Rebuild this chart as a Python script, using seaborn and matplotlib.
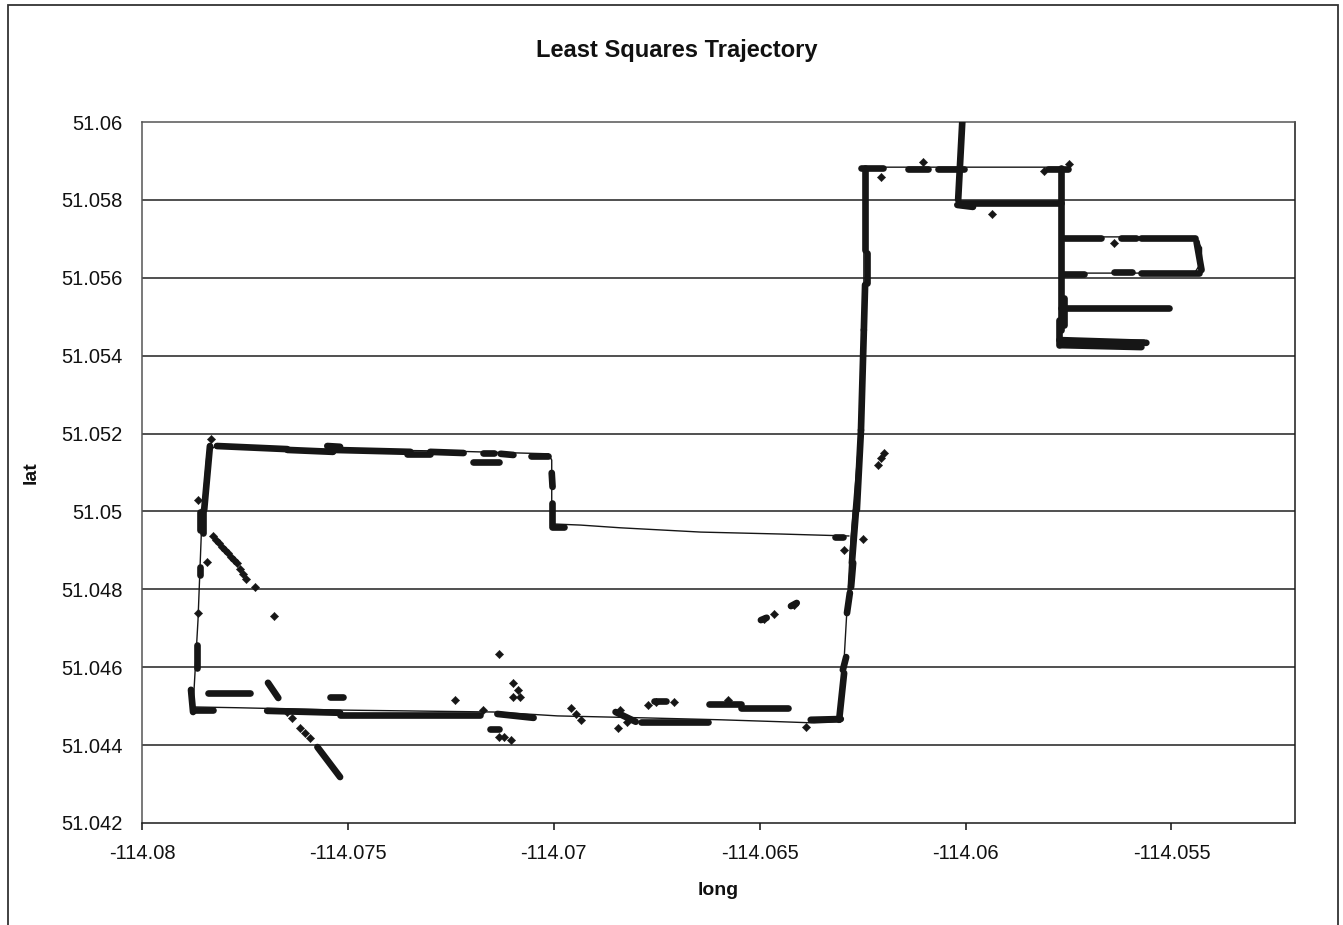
import numpy as np
import pandas as pd
import matplotlib
matplotlib.use("Agg")
import matplotlib.pyplot as plt
from matplotlib.patches import Rectangle
import seaborn as sns

# ---- trajectory (thin connecting line), lon / lat in degrees ----
route_lon = [-114.06283, -114.06448, -114.06643, -114.06838, -114.06935, -114.07005,
             -114.07005, -114.07013, -114.07251, -114.07616, -114.07822, -114.07842,
             -114.07854, -114.07864, -114.07876, -114.07769, -114.07519, -114.07146,
             -114.06991, -114.06782, -114.06594, -114.06448, -114.06368, -114.06303,
             -114.06295, -114.06278, -114.06261, -114.06247, -114.06247, -114.05768,
             -114.05768, -114.06016, -114.06005, -114.06016, -114.05768, -114.05768,
             -114.05444, -114.05427, -114.05427, -114.05444, -114.05768, -114.05768,
             -114.05507, -114.05768, -114.05768, -114.05566]
route_lat = [51.04937, 51.04942, 51.04947, 51.04958, 51.04965, 51.04968,
             51.05132, 51.05148, 51.05155, 51.05160, 51.05168, 51.05150,
             51.04996, 51.04721, 51.04498, 51.04496, 51.04490, 51.04485,
             51.04475, 51.04470, 51.04465, 51.04460, 51.04457, 51.04460,
             51.04619, 51.04935, 51.05158, 51.05466, 51.05884, 51.05884,
             51.05795, 51.05795, 51.06010, 51.05795, 51.05795, 51.05705,
             51.05705, 51.05677, 51.05641, 51.05612, 51.05612, 51.05522,
             51.05522, 51.05522, 51.05440, 51.05440]

# ---- dense runs of position fixes (start / end of each run) ----
run_lon0 = [-114.07818, -114.07647, -114.07550, -114.07536, -114.07356, -114.07300,
            -114.07195, -114.07171, -114.07129, -114.07056, -114.07005, -114.07005,
            -114.07005, -114.07835, -114.07852, -114.07859, -114.07859, -114.07866,
            -114.07881, -114.07876, -114.07840, -114.07694, -114.07696, -114.07543,
            -114.07574, -114.07519, -114.07154, -114.07137, -114.06850, -114.06789,
            -114.06757, -114.06624, -114.06546, -114.06376, -114.06307, -114.06298,
            -114.06288, -114.06278, -114.06276, -114.06264, -114.06254, -114.06244,
            -114.06239, -114.06244, -114.06317, -114.06497, -114.06424, -114.06254,
            -114.06140, -114.06067, -114.06008, -114.06020, -114.06016, -114.05799,
            -114.05768, -114.05760, -114.05622, -114.05573, -114.05439, -114.05760,
            -114.05639, -114.05573, -114.05768, -114.05760, -114.05772, -114.05768,
            -114.05772]
run_lat0 = [51.05168, 51.05158, 51.05168, 51.05158, 51.05148, 51.05153,
            51.05127, 51.05150, 51.05148, 51.05142, 51.05099, 51.05022,
            51.04960, 51.05168, 51.05004, 51.04999, 51.04858, 51.04657,
            51.04542, 51.04490, 51.04534, 51.04560, 51.04488, 51.04524,
            51.04395, 51.04478, 51.04442, 51.04480, 51.04485, 51.04460,
            51.04513, 51.04506, 51.04496, 51.04465, 51.04465, 51.04593,
            51.04739, 51.04806, 51.04868, 51.05004, 51.05209, 51.05882,
            51.05664, 51.05582, 51.04935, 51.04721, 51.04757, 51.05882,
            51.05879, 51.05879, 51.06000, 51.05787, 51.05792, 51.05879,
            51.05882, 51.05702, 51.05702, 51.05702, 51.05692, 51.05610,
            51.05615, 51.05612, 51.05522, 51.05548, 51.05440, 51.05427,
            51.05492]
run_lon1 = [-114.07647, -114.07536, -114.07519, -114.07348, -114.07300, -114.07219,
            -114.07134, -114.07146, -114.07098, -114.07015, -114.07003, -114.07005,
            -114.06976, -114.07849, -114.07852, -114.07859, -114.07859, -114.07866,
            -114.07876, -114.07827, -114.07737, -114.07669, -114.07519, -114.07511,
            -114.07519, -114.07178, -114.07134, -114.07049, -114.06801, -114.06626,
            -114.06728, -114.06546, -114.06431, -114.06303, -114.06295, -114.06290,
            -114.06281, -114.06273, -114.06266, -114.06254, -114.06247, -114.06244,
            -114.06239, -114.06247, -114.06298, -114.06483, -114.06410, -114.06200,
            -114.06091, -114.06003, -114.06018, -114.05982, -114.05768, -114.05751,
            -114.05768, -114.05670, -114.05585, -114.05444, -114.05427, -114.05712,
            -114.05597, -114.05434, -114.05505, -114.05760, -114.05561, -114.05573,
            -114.05772]
run_lat1 = [51.05160, 51.05153, 51.05166, 51.05153, 51.05148, 51.05150,
            51.05127, 51.05150, 51.05145, 51.05142, 51.05063, 51.04965,
            51.04960, 51.05004, 51.04945, 51.04952, 51.04837, 51.04598,
            51.04485, 51.04490, 51.04534, 51.04521, 51.04483, 51.04524,
            51.04318, 51.04478, 51.04442, 51.04470, 51.04460, 51.04460,
            51.04513, 51.04506, 51.04496, 51.04467, 51.04585, 51.04626,
            51.04791, 51.04868, 51.05004, 51.05209, 51.05466, 51.05671,
            51.05587, 51.05466, 51.04935, 51.04727, 51.04765, 51.05882,
            51.05879, 51.05879, 51.05800, 51.05782, 51.05792, 51.05879,
            51.05466, 51.05702, 51.05702, 51.05702, 51.05620, 51.05610,
            51.05615, 51.05612, 51.05522, 51.05479, 51.05433, 51.05422,
            51.05427]

# ---- scattered individual fixes ----
fix_lon = [-114.07832, -114.07864, -114.07842, -114.07864, -114.07679,
           -114.07827, -114.07820, -114.07813, -114.07805, -114.07798, -114.07791,
           -114.07784, -114.07776, -114.07769, -114.07762, -114.07754, -114.07747,
           -114.07725,
           -114.07647, -114.07635, -114.07616, -114.07604, -114.07591,
           -114.07239, -114.07171, -114.07134, -114.07098, -114.07086, -114.07081,
           -114.07098, -114.07134, -114.07122, -114.07105, -114.06959, -114.06947,
           -114.06935, -114.06845, -114.06838, -114.06821, -114.06772, -114.06752,
           -114.06709, -114.06577, -114.06388, -114.06295, -114.06249, -114.06213,
           -114.06205, -114.06198, -114.06490, -114.06466, -114.06417, -114.06205,
           -114.06103, -114.05935, -114.05809, -114.05748, -114.05639]
fix_lat = [51.05186, 51.05030, 51.04870, 51.04739, 51.04732,
           51.04937, 51.04927, 51.04919, 51.04909, 51.04901, 51.04893,
           51.04883, 51.04876, 51.04868, 51.04852, 51.04840, 51.04827,
           51.04806,
           51.04485, 51.04470, 51.04444, 51.04431, 51.04418,
           51.04516, 51.04490, 51.04634, 51.04560, 51.04542, 51.04524,
           51.04524, 51.04421, 51.04421, 51.04413, 51.04496, 51.04480,
           51.04465, 51.04444, 51.04490, 51.04460, 51.04503, 51.04511,
           51.04511, 51.04516, 51.04447, 51.04901, 51.04929, 51.05119,
           51.05137, 51.05150, 51.04724, 51.04737, 51.04760, 51.05859,
           51.05897, 51.05764, 51.05874, 51.05892, 51.05689]

x_ticks = [-114.08, -114.075, -114.07, -114.065, -114.06, -114.055]
x_tick_labels = ["-114.08", "-114.075", "-114.07", "-114.065", "-114.06", "-114.055"]
y_ticks = [51.042, 51.044, 51.046, 51.048, 51.05, 51.052, 51.054, 51.056, 51.058, 51.06]
y_tick_labels = ["51.042", "51.044", "51.046", "51.048", "51.05", "51.052",
                 "51.054", "51.056", "51.058", "51.06"]

# ---- build tidy frames ----
route = pd.DataFrame({"long": route_lon, "lat": route_lat})
runs = pd.DataFrame({
    "long": np.ravel(np.column_stack([run_lon0, run_lon1])),
    "lat": np.ravel(np.column_stack([run_lat0, run_lat1])),
    "run": np.repeat(np.arange(len(run_lon0)), 2),
})
fixes = pd.DataFrame({"long": fix_lon, "lat": fix_lat})

sns.set_style("white")
plt.rcParams["font.family"] = ["Liberation Sans", "DejaVu Sans"]

ink = "#161616"
fig = plt.figure(figsize=(13.43, 9.25), dpi=100)
ax = fig.add_axes([142 / 1343, 1 - 823 / 925, (1295 - 142) / 1343, (823 - 122) / 925])

ax.set_xlim(-114.08, -114.052)
ax.set_ylim(51.042, 51.06)

for y in y_ticks[1:-1]:
    ax.axhline(y, color="#202020", lw=1.1, zorder=0)

sns.lineplot(data=route, x="long", y="lat", sort=False, estimator=None,
             color=ink, lw=1.0, ax=ax, zorder=2)
sns.lineplot(data=runs, x="long", y="lat", units="run", estimator=None, sort=False,
             color=ink, lw=4.8, solid_capstyle="round", ax=ax, zorder=3)
sns.scatterplot(data=fixes, x="long", y="lat", marker="D", s=18, color=ink,
                edgecolor=ink, linewidth=0.3, ax=ax, zorder=4)

ax.set_xticks(x_ticks)
ax.set_xticklabels(x_tick_labels)
ax.set_yticks(y_ticks)
ax.set_yticklabels(y_tick_labels)
ax.tick_params(axis="x", direction="out", length=5, width=1.2, color="#222",
               pad=10, labelsize=14.5, labelcolor="#111")
ax.tick_params(axis="y", length=0, pad=14, labelsize=14.5, labelcolor="#111")
ax.xaxis.set_tick_params(bottom=True)

for side, sp in ax.spines.items():
    sp.set_visible(True)
    sp.set_linewidth(1.1)
    sp.set_color("#555" if side in ("left", "top") else "#1a1a1a")

ax.set_xlabel("long", fontsize=14, fontweight="bold", labelpad=14, color="#111")
ax.set_ylabel("lat", fontsize=14, fontweight="bold", color="#111")
ax.yaxis.set_label_coords((40 - 142) / 1153, 0.5)
fig.text(677 / 1343, 1 - 50 / 925, "Least Squares Trajectory", ha="center", va="center",
         fontsize=17, fontweight="bold", color="#111")

# chart-area frame
fig.patches.append(Rectangle((8 / 1343, -0.02), (1338 - 8) / 1343, 1.02 - 5 / 925,
                             transform=fig.transFigure, fill=False,
                             edgecolor="#333", lw=1.3))

fig.savefig("out.png", dpi=100, facecolor="white")
